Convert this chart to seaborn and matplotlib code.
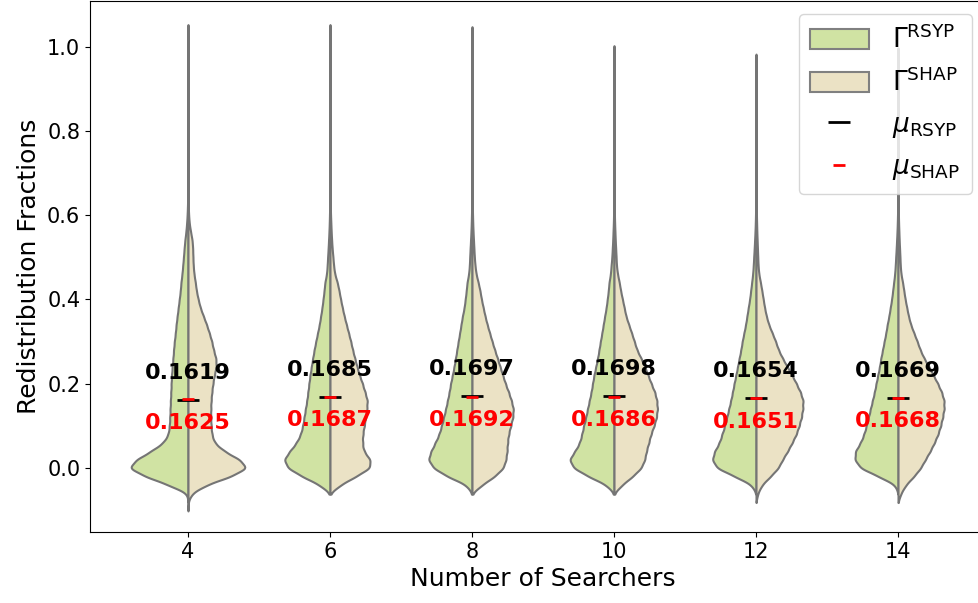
import numpy as np
import pandas as pd
import seaborn as sns
import matplotlib.pyplot as plt
from matplotlib.patches import Patch

SEARCHERS = ["4", "6", "8", "10", "12", "14"]
METHODS = ["RSYP", "SHAP"]

LEVELS = np.round(np.arange(-0.06, 0.645, 0.02), 2)

# relative width of each half violin at every level (one list per searcher count)
WIDTH_RSYP = [
    [0.7, 19, 40.7, 57, 49, 35, 23.3, 18.7, 17.7, 17.3, 17, 16.7, 16.3, 16, 15.7, 15, 14.3, 13.7,
     13, 12, 11.3, 10.3, 9.3, 8.3, 7.3, 6.7, 5.7, 5, 4.3, 3.7, 3, 2, 1.3, 0.8, 0.5, 0.3],
    [0, 10.3, 27, 41, 44.7, 38.7, 32.3, 28.3, 26.3, 25, 23.7, 22.3, 21.3, 20.3, 19.3, 18, 16.7, 15.3,
     13.7, 12, 10.3, 9, 7.7, 6.7, 5.7, 5, 3.3, 2.7, 2.3, 1.8, 1.4, 1.0, 0.7, 0.5, 0.3, 0.2],
    [0, 5.5, 23.8, 37.2, 42.2, 39.2, 35.2, 31.5, 29.2, 27.2, 25.2, 23.5, 21.8, 20.5, 18.8, 17.2, 15.8, 14.5,
     13.2, 11.8, 10.5, 9.2, 7.5, 6.5, 5.5, 4.8, 3.2, 2.5, 2.2, 1.8, 1.4, 1.0, 0.7, 0.5, 0.3, 0.2],
    [0, 7.3, 24, 38, 42, 36.3, 32, 30, 28.3, 26.3, 24.7, 23, 21.3, 20, 18.7, 17, 15.3, 14,
     12.7, 11.3, 10, 8.7, 7.3, 6.3, 5.3, 4.7, 3.3, 2.7, 2, 1.6, 1.2, 0.9, 0.6, 0.4, 0.3, 0.2],
    [0, 4.3, 21, 39.3, 43.7, 41, 36.3, 33.7, 31, 29, 27, 25, 23.3, 21.7, 20, 18.3, 16.7, 15,
     13.7, 12, 10.3, 9, 7.7, 6.3, 5.3, 4.3, 3.3, 2.7, 2.3, 1.8, 1.4, 1.0, 0.7, 0.5, 0.3, 0.2],
    [0, 2.7, 19.3, 37.7, 43, 42.3, 37, 33.7, 31.3, 29.3, 27.3, 25.3, 23.3, 21.7, 20, 18.3, 17, 15.3,
     13.7, 12, 10.7, 9, 7.7, 6.3, 5.3, 4.3, 3.3, 2.7, 2.3, 1.8, 1.4, 1.0, 0.7, 0.5, 0.3, 0.2],
]
WIDTH_SHAP = [
    [3.7, 17.7, 41, 57, 49.3, 34.3, 25, 22.7, 22, 21.7, 21.7, 22, 22.7, 23.7, 25, 27, 26.7, 24.3,
     22.7, 20.3, 17.7, 14.7, 11.7, 9.7, 8, 7, 5.7, 5, 4.7, 4.5, 4, 2.5, 1.2, 0.6, 0.3, 0.2],
    [0, 9.7, 23.7, 37, 37, 30.7, 29.7, 30, 31.3, 32.7, 33.7, 34.3, 32, 29.7, 27, 24.7, 22.7, 20.7,
     19, 17, 15, 13, 11.3, 9.7, 8.3, 6.7, 4.3, 3.3, 2.7, 2.0, 1.5, 1.1, 0.8, 0.5, 0.3, 0.2],
    [0, 9.5, 21.2, 29.5, 31.8, 32.8, 33.2, 34.2, 36.2, 38.2, 38.8, 36.8, 34.2, 31.2, 28.8, 26.2, 23.8, 21.2,
     18.8, 16.5, 14.2, 12.2, 10.5, 8.8, 7.5, 5.8, 3.8, 2.8, 2.2, 1.8, 1.4, 1.0, 0.7, 0.5, 0.3, 0.2],
    [0, 7.7, 17.7, 26, 29.3, 30.7, 33, 35, 38, 40.3, 41.3, 40.7, 38.7, 35.3, 32.3, 29.3, 25.7, 21.7,
     19.3, 16.7, 14, 11.3, 9.7, 8, 6.3, 5, 3.3, 2.3, 2, 1.6, 1.2, 0.9, 0.6, 0.4, 0.3, 0.2],
    [1.7, 5.7, 14, 21.7, 25.7, 30.7, 35, 39, 41.7, 44, 45.3, 45.7, 43, 39, 35, 30.3, 25.7, 21.7,
     19, 15.7, 12.3, 10, 8.3, 7, 5.7, 4.3, 2.7, 2, 1.7, 1.4, 1.1, 0.8, 0.6, 0.4, 0.3, 0.2],
    [3, 8, 16.3, 23.3, 28, 33, 37.3, 41, 43.7, 45.7, 47.3, 47.3, 44.7, 40.7, 36.3, 31.7, 26.7, 22.7,
     19.7, 16.3, 13, 10.7, 9, 7.3, 6, 4.7, 3, 2.3, 2, 1.6, 1.2, 0.9, 0.6, 0.4, 0.3, 0.2],
]
# single extreme observations (the thin tails)
TAIL_RSYP = [[0.78], [0.78], [0.78], [0.78], [0.76], [0.78]]
TAIL_SHAP = [[-0.08, 1.03], [1.03], [1.025], [0.98], [0.96], [0.975]]

MEAN_RSYP = [0.1619, 0.1685, 0.1697, 0.1698, 0.1654, 0.1669]
MEAN_SHAP = [0.1625, 0.1687, 0.1692, 0.1686, 0.1651, 0.1668]

GREEN = "#d0e3a3"
BEIGE = "#ebe2c5"
BW = 0.011

rows = []
for i, n in enumerate(SEARCHERS):
    for method, widths, tails in [("RSYP", WIDTH_RSYP, TAIL_RSYP), ("SHAP", WIDTH_SHAP, TAIL_SHAP)]:
        counts = np.rint(np.array(widths[i]) * 10).astype(int)
        values = np.concatenate([np.repeat(LEVELS, counts), tails[i]])
        rows.append(pd.DataFrame({"searchers": n, "method": method, "value": values}))
df = pd.concat(rows, ignore_index=True)

fig = plt.figure(figsize=(9.79, 6.03), dpi=100)
ax = fig.add_axes([90 / 979, 1 - 532 / 603, 906 / 979, 531 / 603])

sns.violinplot(data=df, x="searchers", y="value", hue="method",
               order=SEARCHERS, hue_order=METHODS, split=True, inner=None,
               density_norm="area", palette=[GREEN, BEIGE], saturation=1,
               linecolor="gray", linewidth=1.5, cut=2, gridsize=400,
               bw_method=lambda k: BW / k.dataset.std(), legend=False, ax=ax)

pos = np.arange(len(SEARCHERS))
h_rsyp, = ax.plot(pos, MEAN_RSYP, ls="none", marker="_", ms=16, mew=2, color="black")
h_shap, = ax.plot(pos, MEAN_SHAP, ls="none", marker="_", ms=8, mew=2, color="red")

for i in pos:
    ax.text(i, MEAN_RSYP[i] + 0.05, f"{MEAN_RSYP[i]:.4f}", ha="center", va="baseline",
            fontsize=16, fontweight="bold", color="black")
    ax.text(i, MEAN_SHAP[i] - 0.07, f"{MEAN_SHAP[i]:.4f}", ha="center", va="baseline",
            fontsize=16, fontweight="bold", color="red")

ax.set_xlim(-0.69, 5.69)
ax.set_ylim(-0.152, 1.108)
ax.set_yticks([0.0, 0.2, 0.4, 0.6, 0.8, 1.0])
ax.tick_params(labelsize=15)
ax.set_xlabel("Number of Searchers", fontsize=18)
ax.set_ylabel("Redistribution Fractions", fontsize=18)

handles = [Patch(facecolor=GREEN, edgecolor="gray", linewidth=1.5),
           Patch(facecolor=BEIGE, edgecolor="gray", linewidth=1.5),
           h_rsyp, h_shap]
labels = [r"$\Gamma^{\rm RSYP}$", r"$\Gamma^{\rm SHAP}$",
          r"$\mu_{\rm RSYP}$", r"$\mu_{\rm SHAP}$"]
ax.legend(handles, labels, loc="upper right", bbox_to_anchor=(972 / 979, 1 - 14 / 603),
          bbox_transform=fig.transFigure, borderaxespad=0, fontsize=19,
          handlelength=2.2, handleheight=0.8, labelspacing=0.55, handletextpad=0.9,
          borderpad=0.45)

fig.savefig("out.png", dpi=100)
